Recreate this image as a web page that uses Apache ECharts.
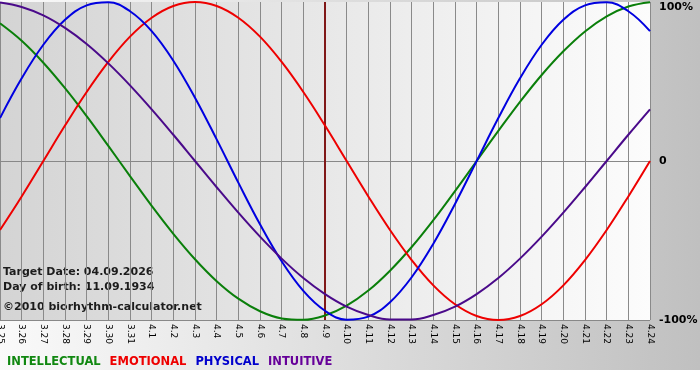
<!DOCTYPE html>
<html>
<head>
<meta charset="utf-8">
<script src="https://cdn.jsdelivr.net/npm/echarts@6/dist/echarts.min.js"></script>
<style>html,body{margin:0;padding:0;background:#fff}#c{width:700px;height:380px}</style>
</head>
<body>
<div id="c"></div>
<script>
const categories = ['3.25','3.26','3.27','3.28','3.29','3.30','3.31','4.1','4.2','4.3','4.4','4.5','4.6','4.7','4.8','4.9','4.10','4.11','4.12','4.13','4.14','4.15','4.16','4.17','4.18','4.19','4.20','4.21','4.22','4.23','4.24'];
const intellectual = [86.6,75.6,61.8,45.8,28.2,9.5,-9.5,-28.2,-45.8,-61.8,-75.6,-86.6,-94.5,-99.0,-99.9,-97.2,-91.0,-81.5,-69.0,-54.1,-37.2,-18.9,0,18.9,37.2,54.1,69.0,81.5,91.0,97.2,99.9];
const emotional = [-43.4,-22.3,0,22.3,43.4,62.3,78.2,90.1,97.5,100,97.5,90.1,78.2,62.3,43.4,22.3,0,-22.3,-43.4,-62.3,-78.2,-90.1,-97.5,-100,-97.5,-90.1,-78.2,-62.3,-43.4,-22.3,0];
const physical = [27.0,52.0,73.1,88.8,97.9,99.8,94.2,81.7,63.1,39.8,13.6,-13.6,-39.8,-63.1,-81.7,-94.2,-99.8,-97.9,-88.8,-73.1,-52.0,-27.0,0,27.0,52.0,73.1,88.8,97.9,99.8,94.2,81.7];
const intuitive = [99.7,96.9,91.6,83.7,73.6,61.4,47.6,32.5,16.5,0,-16.5,-32.5,-47.6,-61.4,-73.6,-83.7,-91.6,-96.9,-99.7,-99.7,-96.9,-91.6,-83.7,-73.6,-61.4,-47.6,-32.5,-16.5,0,16.5,32.5];
const yTicks = [-100, 0, 100];
const targetDate = '4.9';
const infoLines = ['Target Date: 04.09.2026', 'Day of birth: 11.09.1934', '©2010 biorhythm-calculator.net'];

const FONT = 'DejaVu Sans';
const chart = echarts.init(document.getElementById('c'), null, {renderer: 'canvas'});

function line(name, data, color) {
  return {
    name, type: 'line', data, smooth: 0.4, symbol: 'none',
    lineStyle: {color, width: 2}, itemStyle: {color}, z: 3
  };
}

const series = [
  line('INTELLECTUAL', intellectual, '#0a7f0a'),
  line('EMOTIONAL', emotional, '#ee0000'),
  line('PHYSICAL', physical, '#0000e0'),
  line('INTUITIVE', intuitive, '#4a0a8a')
];
series[0].markLine = {
  silent: true, symbol: 'none', label: {show: false},
  lineStyle: {color: '#801818', width: 2, type: 'solid'},
  data: [{xAxis: targetDate}], z: 2
};

chart.setOption({
  animation: false,
  backgroundColor: '#ffffff',
  graphic: [
    {type: 'rect', z: -10, silent: true, shape: {x: 0, y: 0, width: 700, height: 370},
     style: {fill: new echarts.graphic.LinearGradient(0, 0, 1, 0, [
       {offset: 0, color: '#fafafa'}, {offset: 1, color: '#c0c0c0'}])}},
    {type: 'group', left: 3, top: 267, z: 100, children: infoLines.map((t, i) => ({
      type: 'text', x: 0, y: [0, 15, 35][i],
      style: {text: t, font: 'bold 11px "' + FONT + '"', fill: '#1c1c1c'}
    }))}
  ],
  legend: {
    left: 2, top: 356, padding: 0, icon: 'none', itemWidth: 0, itemHeight: 10, itemGap: 4,
    textStyle: {fontFamily: FONT, fontSize: 11.5, fontWeight: 'bold'},
    data: [
      {name: 'INTELLECTUAL', textStyle: {color: '#118811'}},
      {name: 'EMOTIONAL', textStyle: {color: '#ee0000'}},
      {name: 'PHYSICAL', textStyle: {color: '#0000cc'}},
      {name: 'INTUITIVE', textStyle: {color: '#660099'}}
    ],
    selectedMode: false
  },
  grid: {
    left: 0, right: 50, top: 2, bottom: 60, show: true, borderWidth: 0,
    outerBoundsMode: 'none', containLabel: false,
    backgroundColor: new echarts.graphic.LinearGradient(0, 0, 1, 0, [
      {offset: 0, color: '#d4d4d4'}, {offset: 1, color: '#fcfcfc'}])
  },
  xAxis: {
    type: 'category', data: categories, boundaryGap: false,
    axisLine: {show: true, lineStyle: {color: '#888888', width: 1}},
    axisTick: {show: false},
    axisLabel: {rotate: -90, margin: 4, fontFamily: FONT, fontSize: 9, color: '#000', interval: 0},
    splitLine: {show: true, lineStyle: {color: '#8a8a8a', width: 1}}
  },
  yAxis: {
    type: 'value', position: 'right', min: -100, max: 100, interval: 100,
    axisLine: {show: false}, axisTick: {show: false},
    axisLabel: {margin: 9, fontFamily: FONT, fontSize: 11, fontWeight: 'bold', color: '#000',
      verticalAlignMaxLabel: 'top',
      formatter: v => yTicks.includes(v) ? (v === 0 ? '0' : v + '%') : ''},
    splitLine: {show: true, lineStyle: {color: ['#888888', '#888888', 'rgba(0,0,0,0)'], width: 1}}
  },
  series
});
</script>
</body>
</html>
